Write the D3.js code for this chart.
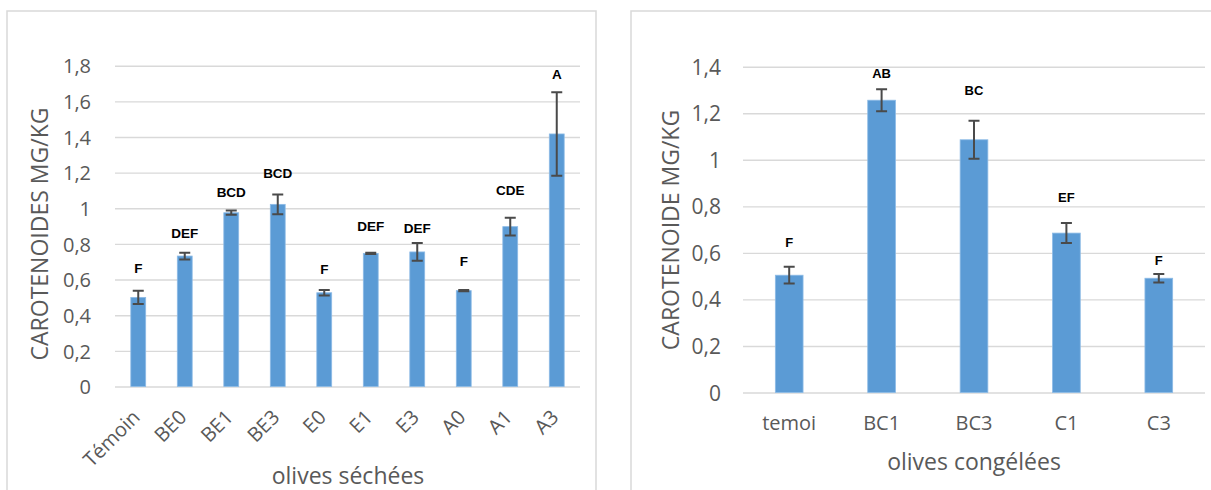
<!DOCTYPE html>
<html><head><meta charset="utf-8">
<script src="https://cdn.jsdelivr.net/npm/d3@7"></script>
<style>body{margin:0;background:#fff}svg{display:block}</style>
</head><body><svg id="c" width="1211" height="490"></svg>
<script>
// ---- data: dried olives ----
const dryCats = ["Témoin","BE0","BE1","BE3","E0","E1","E3","A0","A1","A3"];
const dryMeans = [0.500,0.732,0.975,1.022,0.526,0.747,0.755,0.538,0.897,1.417];
const dryErr = [0.037,0.019,0.012,0.056,0.015,0.004,0.050,0.004,0.050,0.234];
const dryLetters = ["F","DEF","BCD","BCD","F","DEF","DEF","F","CDE","A"];
const dryLetterLevel = [0.663,0.863,1.090,1.196,0.658,0.900,0.891,0.704,1.101,1.752];
const dryTicks = [0,0.2,0.4,0.6,0.8,1,1.2,1.4,1.6,1.8];
// ---- data: frozen olives ----
const frozenCats = ["temoi","BC1","BC3","C1","C3"];
const frozenMeans = [0.504,1.256,1.086,0.685,0.491];
const frozenErr = [0.036,0.047,0.082,0.043,0.018];
const frozenLetters = ["F","AB","BC","EF","F"];
const frozenLetterLevel = [0.645,1.370,1.297,0.839,0.566];
const frozenTicks = [0,0.2,0.4,0.6,0.8,1,1.2,1.4];

const svg = d3.select("#c");
const FONT = "'Open Sans', sans-serif";
const fmt = v => String(+v.toFixed(1)).replace(".", ",");

function drawChart(o) {
  const g = svg.append("g");
  g.append("rect").attr("x", o.panel[0]).attr("y", o.panel[1])
    .attr("width", o.panel[2]).attr("height", o.panel[3])
    .attr("fill", "#fff").attr("stroke", "#d9d9d9").attr("stroke-width", 1.5);

  const x = d3.scaleBand().domain(o.cats).range([o.x0, o.x1]).padding(0);
  const y = d3.scaleLinear().domain([0, d3.max(o.ticks)]).range([o.y0, o.y1]);
  const bw = x.bandwidth() * o.barFrac;
  const cx = c => x(c) + x.bandwidth() / 2;

  // y axis with gridlines
  const ya = g.append("g").attr("transform", `translate(${o.x0},0)`)
    .call(d3.axisLeft(y).tickValues(o.ticks).tickFormat(fmt)
      .tickSize(-(o.gridEnd - o.x0)).tickPadding(o.tickPad));
  ya.select(".domain").remove();
  ya.selectAll("line").attr("stroke", "#d9d9d9").attr("stroke-width", 1.4);
  ya.selectAll("text").attr("fill", "#595959").attr("font-family", FONT)
    .attr("font-size", o.yTickSize).attr("dy", "0.36em");

  // x category labels
  const xl = g.append("g").selectAll("g").data(o.cats).join("g");
  if (o.rotate) {
    xl.attr("transform", c => `translate(${cx(c) + o.rotDx},${o.y0 + o.rotDy}) rotate(-45)`);
    xl.append("text").attr("text-anchor", "end")
      .attr("fill", "#595959").attr("font-family", FONT).attr("font-size", o.xTickSize)
      .text(c => c);
  } else {
    xl.attr("transform", c => `translate(${cx(c)},${o.xTickBase})`);
    xl.append("text").attr("text-anchor", "middle")
      .attr("fill", "#595959").attr("font-family", FONT).attr("font-size", o.xTickSize)
      .text(c => c);
  }

  const data = o.cats.map((c, i) => ({c, m: o.means[i], e: o.err[i], l: o.letters[i], ll: o.letterLevel[i]}));

  // bars
  g.append("g").selectAll("rect").data(data).join("rect")
    .attr("x", d => x(d.c) + (x.bandwidth() - bw) / 2)
    .attr("width", bw)
    .attr("y", d => y(d.m))
    .attr("height", d => y(0) - y(d.m))
    .attr("fill", "#5b9bd5").attr("stroke", "#8dbbe6").attr("stroke-width", 0.8);

  // error bars
  const eb = g.append("g").attr("stroke", "#4a4a4a").attr("stroke-width", 2).attr("fill", "none");
  eb.selectAll("path").data(data).join("path")
    .attr("d", d => {
      const c = cx(d.c), t = y(d.m + d.e), b = y(d.m - d.e), h = o.cap / 2;
      return `M${c},${t}V${b}M${c - h},${t}H${c + h}M${c - h},${b}H${c + h}`;
    });

  // significance letters
  g.append("g").selectAll("text").data(data).join("text")
    .attr("x", d => cx(d.c)).attr("y", d => y(d.ll))
    .attr("dy", "0.36em").attr("text-anchor", "middle")
    .attr("font-family", "'Liberation Sans', Arial, sans-serif")
    .attr("font-weight", "bold").attr("font-size", o.letterSize).attr("fill", "#000")
    .text(d => d.l);

  // axis titles
  g.append("text").attr("transform", `translate(${o.yTitle[0]},${o.yTitle[1]}) rotate(-90)`)
    .attr("text-anchor", "middle").attr("dy", "0.36em")
    .attr("font-family", FONT).attr("font-size", o.titleSize).attr("fill", "#595959")
    .text(o.yTitleText);
  g.append("text").attr("x", o.xTitle[0]).attr("y", o.xTitle[1])
    .attr("text-anchor", "middle")
    .attr("font-family", FONT).attr("font-size", o.titleSize).attr("fill", "#595959")
    .text(o.xTitleText);
}

drawChart({
  panel: [7, 11, 589, 500],
  cats: dryCats, means: dryMeans, err: dryErr, letters: dryLetters, letterLevel: dryLetterLevel,
  ticks: dryTicks,
  x0: 115, x1: 580, gridEnd: 580, y0: 386.5, y1: 65.7,
  barFrac: 0.32, cap: 11, tickPad: 24, yTickSize: 20, xTickSize: 20,
  rotate: true, rotDx: 3, rotDy: 32,
  letterSize: 13.5, titleSize: 23,
  yTitle: [40, 234], yTitleText: "CAROTENOIDES MG/KG",
  xTitle: [348, 484], xTitleText: "olives séchées"
});

drawChart({
  panel: [631, 11, 600, 500],
  cats: frozenCats, means: frozenMeans, err: frozenErr, letters: frozenLetters, letterLevel: frozenLetterLevel,
  ticks: frozenTicks,
  x0: 743, x1: 1205, gridEnd: 1205, y0: 392.5, y1: 66.7,
  barFrac: 0.3, cap: 11, tickPad: 22, yTickSize: 21, xTickSize: 20,
  rotate: false, xTickBase: 430,
  letterSize: 13, titleSize: 23,
  yTitle: [671, 230], yTitleText: "CAROTENOIDE MG/KG",
  xTitle: [974, 470], xTitleText: "olives congélées"
});
</script></body></html>
